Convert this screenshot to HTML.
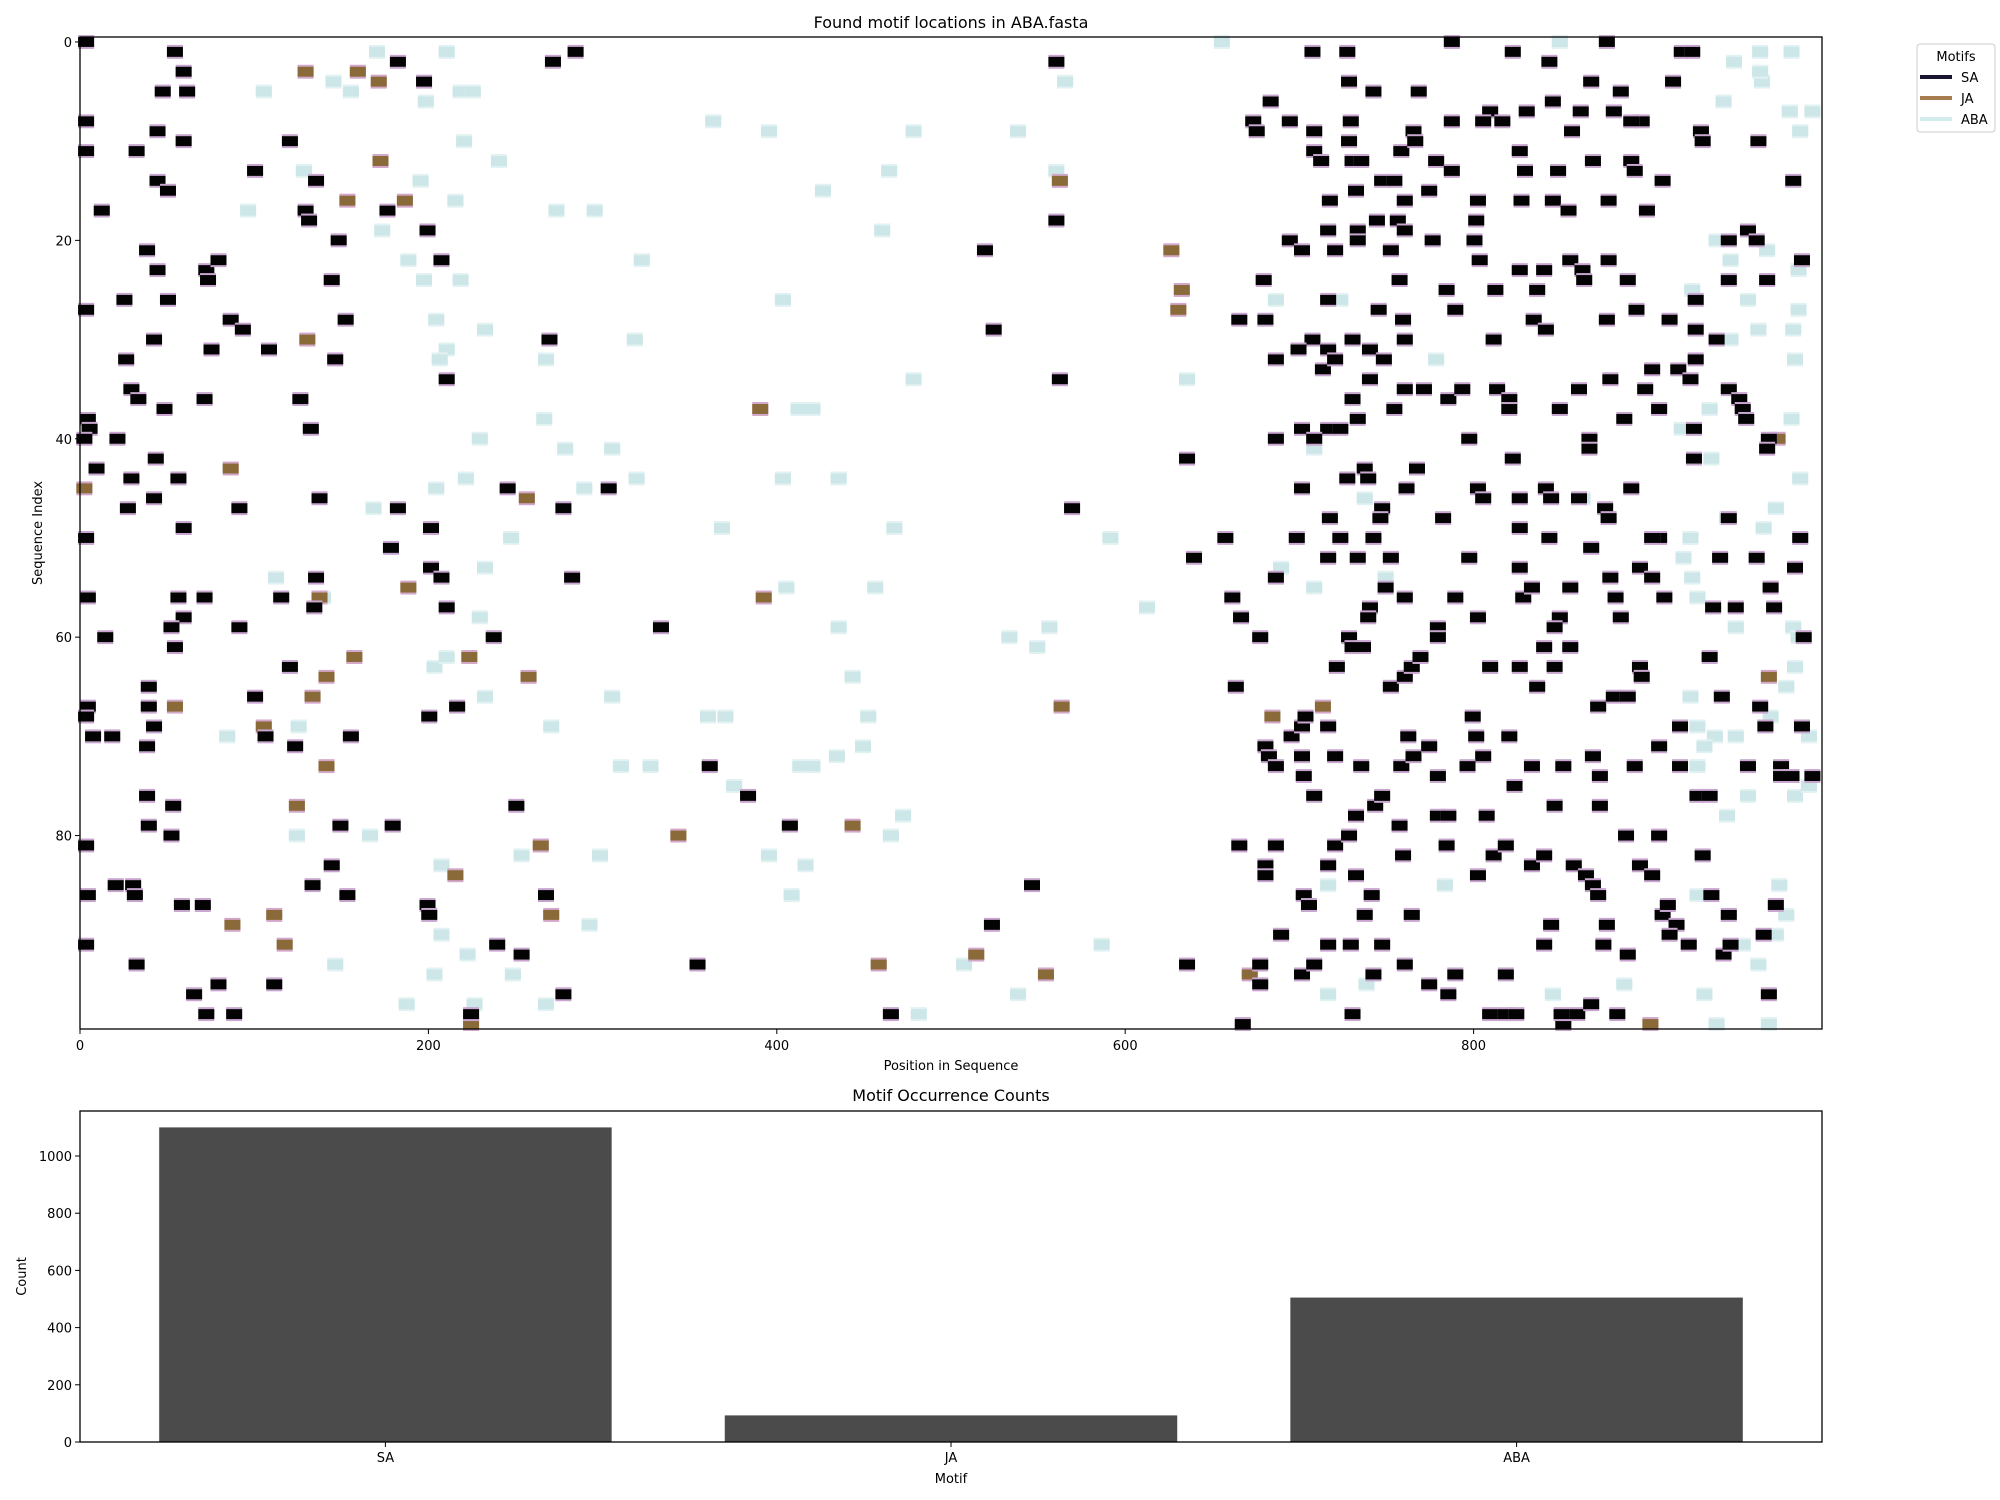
<!DOCTYPE html>
<html><head><meta charset="utf-8">
<style>
html,body{margin:0;padding:0;background:#fff;}
svg{display:block;font-family:"DejaVu Sans","Liberation Sans",sans-serif;}
</style></head>
<body>
<svg id="fig" width="2000" height="1500" viewBox="0 0 2000 1500" xmlns="http://www.w3.org/2000/svg">
<rect x="0" y="0" width="2000" height="1500" fill="#fff"/>
<g id="topchart"></g>
<g id="botchart"></g>
</svg>
<script>
// ---------- data: motif hits [row, position] ----------
const saHits = [
[0,3],[1,54],[3,59],[5,47],[5,61],[8,3],[9,44],[2,182],[4,197],[2,271],[1,284],[2,560],
[1,707],[1,727],[0,787],[1,822],[2,843],[0,876],[1,919],[1,925],[4,728],[5,742],[5,768],[7,809],[7,830],[6,845],[4,867],[5,884],[7,861],[7,880],[8,896],[4,914],[6,683],[8,673],[9,675],[8,694],[9,708],[8,729],[9,765],[8,787],[8,805],[8,816],[9,856],[8,890],[9,930],
[10,59],[10,120],[11,32],[11,3],[13,100],[14,44],[15,50],[14,135],[17,12],[17,129],[18,131],[17,176],[19,199],[20,148],[18,560],
[11,708],[10,728],[12,712],[12,730],[12,735],[11,758],[10,766],[12,778],[13,787],[11,826],[13,829],[13,848],[12,868],[12,890],[13,892],[14,908],[10,931],[10,963],[14,983],[16,717],[15,732],[14,747],[14,754],[16,760],[18,744],[18,756],[15,774],[16,802],[18,801],[16,827],[16,845],[17,854],[16,877],[17,899],[19,957],[19,716],[19,733],[19,760],
[21,38],[23,44],[23,72],[24,73],[22,79],[26,25],[26,50],[27,3],[24,144],[28,152],[22,207],[28,86],[29,93],[32,26],[30,42],[31,75],[31,108],[34,210],[32,146],[30,269],[21,519],[29,524],[34,562],
[20,694],[21,701],[21,720],[20,733],[21,752],[20,776],[20,800],[22,803],[23,826],[23,840],[22,855],[23,862],[22,877],[24,888],[24,863],[25,836],[25,812],[25,784],[24,757],[27,745],[28,759],[26,716],[24,679],[28,665],[28,680],[30,707],[31,716],[30,730],[31,740],[30,760],[27,789],[30,811],[28,834],[29,841],[28,876],[27,893],[26,927],[24,946],[24,968],[20,946],[20,962],[22,988],[29,927],[30,939],[28,912],
[35,29],[36,33],[36,71],[37,48],[36,126],[39,132],[38,4],[39,5],[40,2],[40,21],[43,9],
[32,686],[31,699],[33,713],[32,720],[32,748],[35,760],[36,730],[34,740],[37,754],[35,771],[36,785],[35,793],[35,813],[36,820],[37,820],[37,849],[35,860],[34,878],[35,898],[37,906],[33,902],[33,917],[34,924],[32,927],[35,946],[36,952],[37,954],[38,956],[39,926],[40,969],[38,886],[40,866],[40,797],[38,733],[39,716],[39,701],[40,708],[39,723],[40,686],
[42,43],[44,56],[44,29],[46,42],[47,27],[46,137],[45,245],[45,303],[47,277],[47,91],[47,182],[49,59],[49,201],[47,569],
[42,635],[45,701],[48,717],[44,727],[43,737],[44,739],[47,747],[48,746],[45,761],[43,767],[48,782],[45,802],[46,805],[42,822],[46,826],[45,841],[46,844],[41,866],[46,860],[47,875],[48,877],[45,890],[42,926],[48,946],[41,968],[50,987],[50,906],[49,826],[50,843],
[50,3],[56,4],[60,14],[56,56],[56,71],[58,59],[59,52],[56,115],[57,134],[54,135],[51,178],[53,201],[54,207],[57,210],[54,282],[59,91],[60,237],[59,333],
[52,639],[50,657],[56,661],[58,666],[60,677],[54,686],[50,698],[52,716],[50,723],[52,733],[50,742],[57,740],[58,739],[52,752],[55,749],[56,760],[59,779],[56,789],[52,797],[58,802],[53,826],[56,828],[55,833],[58,849],[59,846],[55,855],[51,867],[54,878],[56,881],[58,884],[53,895],[50,902],[54,902],[56,909],[52,941],[52,962],[57,937],[57,950],[57,972],[55,970],[53,984],
[63,120],[61,54],[65,39],[67,39],[69,42],[67,4],[68,3],[70,7],[70,18],[66,100],[70,106],[71,123],[70,155],[68,200],[67,216],[73,361],[76,383],
[65,663],[71,680],[72,682],[70,695],[69,701],[68,703],[69,716],[72,701],[63,721],[60,728],[61,730],[61,736],[65,752],[64,760],[63,764],[62,769],[60,779],[68,799],[70,801],[72,805],[63,809],[63,826],[65,836],[63,846],[61,840],[61,855],[67,871],[66,880],[66,888],[63,895],[64,896],[69,918],[62,935],[66,942],[67,964],[69,967],[69,988],[60,989],[70,762],
[71,38],[76,38],[77,53],[79,39],[80,52],[79,149],[79,179],[77,250],[79,407],
[73,686],[74,702],[76,708],[72,720],[73,735],[77,743],[76,747],[73,758],[72,765],[71,774],[74,779],[78,779],[73,796],[78,807],[70,820],[75,823],[73,833],[73,851],[72,868],[74,872],[77,872],[73,892],[71,906],[73,918],[76,928],[76,935],[73,976],[74,976],[74,982],[74,994],[73,957],[78,732],[79,757],[78,785],[77,846],[80,906],
[81,3],[85,20],[85,30],[86,31],[86,4],[87,58],[87,70],[85,133],[83,144],[86,153],[86,267],[87,199],[88,200],[85,546],[89,523],
[81,665],[83,680],[84,680],[81,686],[86,702],[87,705],[83,716],[81,720],[80,728],[84,732],[88,737],[86,741],[82,759],[88,764],[81,784],[84,802],[82,811],[81,818],[83,833],[82,840],[89,844],[83,857],[84,864],[85,868],[86,871],[89,876],[83,895],[84,902],[88,908],[87,911],[89,916],[82,931],[86,936],[88,946],[87,973],[80,887],
[91,3],[93,32],[96,65],[98,72],[95,79],[98,88],[95,111],[91,239],[92,253],[98,224],[96,277],[93,354],[98,465],[93,635],
[99,667],[93,677],[95,677],[90,689],[94,701],[93,708],[91,716],[98,730],[91,729],[94,742],[91,747],[93,760],[95,774],[96,785],[94,789],[98,809],[98,818],[98,824],[94,818],[91,840],[99,851],[98,850],[98,859],[97,867],[91,874],[98,882],[92,888],[90,912],[91,923],[92,943],[91,947],[96,969],[90,966]
];
const jaHits = [
[3,129],[4,171],[3,159],[12,172],[16,186],[16,153],[14,562],[30,130],[21,626],[25,632],[27,630],[37,390],[40,974],
[43,86],[46,256],[45,2],[56,137],[55,188],[56,392],[67,54],[66,133],[64,141],[62,157],[62,223],[64,257],[69,105],[67,563],[64,969],[67,713],[68,684],
[73,141],[77,124],[80,343],[79,443],[84,215],[81,264],[88,270],[89,87],[88,111],[91,117],[99,224],[93,458],[92,514],[94,554],[99,901],[94,671]
];
const abaHits = [
[1,170],[1,210],[5,105],[5,155],[6,198],[5,218],[5,225],[4,145],[8,363],[9,395],[9,478],[9,538],[4,565],[0,655],
[0,849],[2,949],[1,964],[1,982],[4,965],[6,943],[7,981],[7,994],[9,987],[3,964],
[17,96],[13,128],[19,173],[10,220],[16,215],[12,240],[22,188],[14,195],[17,295],[17,273],[15,426],[19,460],[13,464],[13,560],
[24,197],[24,218],[29,232],[28,204],[31,210],[32,206],[32,267],[30,318],[22,322],[26,403],
[20,939],[22,947],[21,968],[23,986],[25,925],[26,957],[27,986],[30,947],[29,963],[29,983],[32,984],[32,778],[26,686],[26,723],
[40,229],[41,278],[41,305],[37,412],[37,420],[38,266],[34,478],[34,635],
[37,935],[38,982],[37,906],[39,919],
[45,204],[44,221],[44,319],[47,168],[45,289],[44,403],[44,435],[49,467],[49,368],[50,247],[50,591],
[41,708],[46,737],[46,862],[50,924],[48,945],[49,966],[47,973],[44,987],[42,936],
[54,112],[56,139],[58,229],[55,405],[59,435],[55,456],[57,612],[53,232],
[53,689],[55,708],[54,749],[54,925],[56,928],[52,920],[59,950],[59,983],
[70,84],[69,125],[63,203],[62,210],[66,232],[69,270],[66,305],[68,360],[68,370],[75,375],[73,310],[73,327],[73,413],[73,420],[72,434],[71,449],[68,452],[64,443],[60,533],[61,549],[59,556],
[66,924],[69,928],[70,938],[70,950],[68,970],[65,979],[63,984],[60,986],[70,992],
[80,166],[80,124],[83,207],[82,253],[82,298],[89,292],[82,395],[83,416],[86,408],[80,465],[78,472],
[73,928],[76,957],[76,984],[75,992],[71,932],
[86,928],[88,946],[85,975],[88,979],[85,783],[85,716],[78,945],
[90,207],[92,222],[97,226],[93,146],[94,248],[97,267],[94,203],[97,187],[98,481],[91,586],[96,538],[93,507],
[99,939],[99,969],[91,954],[93,963],[90,973],[96,932],[96,716],[95,738],[96,845],[95,886]
];
const motifNames = ["SA","JA","ABA"];
const motifCounts = [1100, 93, 505];
const xTicks = [0,200,400,600,800];
const yTicks = [0,20,40,60,80];
const countTicks = [0,200,400,600,800,1000];

const NS = "http://www.w3.org/2000/svg";
function mk(tag, attrs, parent){const el=document.createElementNS(NS,tag);for(const k in attrs)el.setAttribute(k,attrs[k]);parent.appendChild(el);return el;}
function txt(s, attrs, parent){const el=mk("text",attrs,parent);el.textContent=s;return el;}

// ---------- top chart ----------
const topG = document.getElementById("topchart");
const L=80,R=1822,T=37,B=1029;
const xs = p => L + (p+0.5)/1000*(R-L);
const ys = r => T + (r+0.5)/100*(B-T);
const rowH=(B-T)/100, markW=16;

function drawHits(hits, fill, edge, name){
  const g = mk("g",{},topG);
  
  
  hits.forEach(h=>{
    const cx=xs(h[1]), cy=ys(h[0]);
    const r=mk("rect",{x:cx-markW/2,y:cy-rowH/2-2,width:markW,height:rowH+4,fill:edge},g);
    
    
    mk("rect",{x:cx-markW/2,y:cy-rowH/2,width:markW,height:rowH,fill:fill},g);
  });
}
drawHits(abaHits,"#cde7e8","#e2f1f2","aba");
drawHits(jaHits,"#8a6a38","#d2a7c9","ja");
drawHits(saHits,"#030303","#c8a6cf","sa");

const frame=mk("rect",{x:L,y:T,width:R-L,height:B-T,fill:"none",stroke:"#000","stroke-width":1.3},topG);


xTicks.forEach(t=>{
  const x=xs(t)-0.5*(R-L)/1000;
  mk("line",{x1:x,x2:x,y1:B,y2:B+5,stroke:"#000","stroke-width":1},topG);
  const el=txt(String(t),{x:x,y:B+21,"font-size":13,"text-anchor":"middle"},topG);
  
  
});
yTicks.forEach(t=>{
  const y=ys(t);
  mk("line",{x1:L-5,x2:L,y1:y,y2:y,stroke:"#000","stroke-width":1},topG);
  const el=txt(String(t),{x:L-8,y:y+5,"font-size":13,"text-anchor":"end"},topG);
  
  
});
let lab;
lab=txt("Found motif locations in ABA.fasta",{x:(L+R)/2,y:28,"font-size":16,"text-anchor":"middle"},topG);

lab=txt("Position in Sequence",{x:(L+R)/2,y:1070,"font-size":13,"text-anchor":"middle"},topG);

lab=txt("Sequence Index",{x:0,y:0,"font-size":13,"text-anchor":"middle",transform:"translate(42,"+((T+B)/2)+") rotate(-90)"},topG);


// legend
const lg=mk("g",{},topG);


mk("rect",{x:1917,y:44,width:78,height:88,rx:3,fill:"#fff",stroke:"#ccc","stroke-width":1},lg);
txt("Motifs",{x:1956,y:61,"font-size":13,"text-anchor":"middle"},lg);
[["SA","#1a1530"],["JA","#a87d50"],["ABA","#d3ecec"]].forEach((m,i)=>{
  const y=77+i*21;
  const ln=mk("line",{x1:1920,x2:1952,y1:y,y2:y,stroke:m[1],"stroke-width":4},lg);
  
  
  txt(m[0],{x:1961,y:y+5,"font-size":13},lg);
});

// ---------- bottom chart ----------
const botG=document.getElementById("botchart");
const BL=80,BR=1822,BT=1111,BB=1442;
const bx = i => BL + (i+0.54)/3.08*(BR-BL);
const by = v => BB - v*(BB-1156)/1000;
const bw = 0.8/3.08*(BR-BL);
motifCounts.forEach((c,i)=>{
  const r=mk("rect",{x:bx(i)-bw/2,y:by(c),width:bw,height:BB-by(c),fill:"#4b4b4b"},botG);
  
  
});
mk("rect",{x:BL,y:BT,width:BR-BL,height:BB-BT,fill:"none",stroke:"#000","stroke-width":1.3},botG);
motifNames.forEach((n,i)=>{
  const x=bx(i);
  mk("line",{x1:x,x2:x,y1:BB,y2:BB+5,stroke:"#000"},botG);
  const t=txt(n,{x:x,y:BB+20,"font-size":13,"text-anchor":"middle"},botG);
  
  
});
countTicks.forEach(v=>{
  const y=by(v);
  mk("line",{x1:BL-5,x2:BL,y1:y,y2:y,stroke:"#000"},botG);
  const t=txt(String(v),{x:BL-8,y:y+5,"font-size":13,"text-anchor":"end"},botG);
  
  
});
lab=txt("Motif Occurrence Counts",{x:(BL+BR)/2,y:1101,"font-size":16,"text-anchor":"middle"},botG);

lab=txt("Motif",{x:(BL+BR)/2,y:1483,"font-size":13,"text-anchor":"middle"},botG);

lab=txt("Count",{x:0,y:0,"font-size":13,"text-anchor":"middle",transform:"translate(26,"+((BT+BB)/2)+") rotate(-90)"},botG);

</script>
</body></html>
